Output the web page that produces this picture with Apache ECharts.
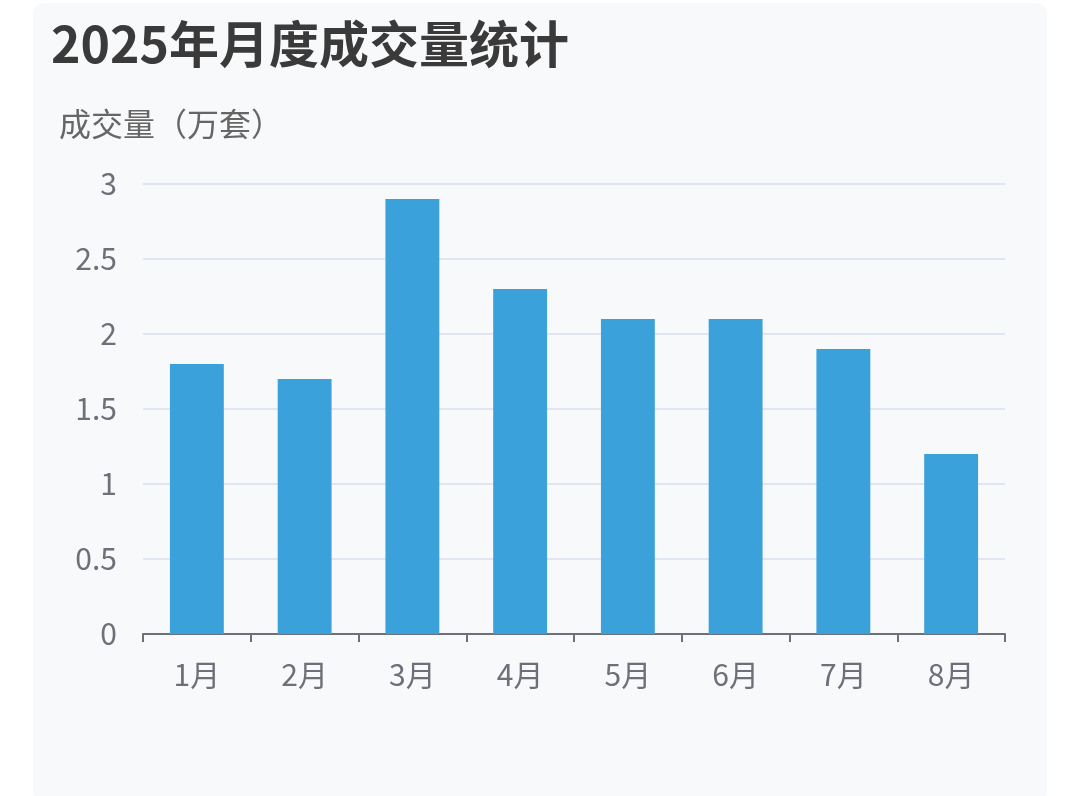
<!DOCTYPE html>
<html><head><meta charset="utf-8">
<script src="https://cdn.jsdelivr.net/npm/echarts@6/dist/echarts.min.js"></script>
<style>
html,body{margin:0;padding:0;background:#fff;width:1080px;height:796px;overflow:hidden}
#panel{position:absolute;left:33px;top:3px;width:1014px;height:800px;background:#f8f9fa;border-radius:10px}
#c{position:absolute;left:0;top:0;width:1080px;height:796px}
</style></head><body>
<div id="panel"></div>
<div id="c"></div>
<script>
const categories=['1月','2月','3月','4月','5月','6月','7月','8月'];
const values=[1.8,1.7,2.9,2.3,2.1,2.1,1.9,1.2];
const titleText='2025年月度成交量统计';
const yName='成交量（万套）';
const chart=echarts.init(document.getElementById('c'));
const font='"Noto Sans CJK SC","Noto Sans",sans-serif';
chart.setOption({
  backgroundColor:'transparent',
  title:{text:titleText,left:46,top:14,textStyle:{fontSize:50,fontWeight:'bold',color:'#3a3a3a',fontFamily:font}},
  grid:{left:143,right:75,top:184,bottom:162},
  xAxis:{type:'category',data:categories,
    axisLine:{lineStyle:{color:'#6e7079',width:2}},
    axisTick:{show:true,length:8,lineStyle:{color:'#6e7079',width:2}},
    axisLabel:{fontSize:30,color:'#6e7079',margin:26,fontFamily:font}},
  yAxis:{type:'value',min:0,max:3,interval:0.5,name:yName,nameLocation:'end',nameGap:44,
    nameTextStyle:{fontSize:32,color:'#666',align:'left',padding:[0,0,0,-84],fontFamily:font},
    axisLabel:{fontSize:30,color:'#6e7079',margin:26,fontFamily:font},
    splitLine:{lineStyle:{color:'#e0e6f1',width:2}}},
  series:[{type:'bar',data:values,barWidth:'50%',itemStyle:{color:'#3aa1da'}}]
});
</script></body></html>
